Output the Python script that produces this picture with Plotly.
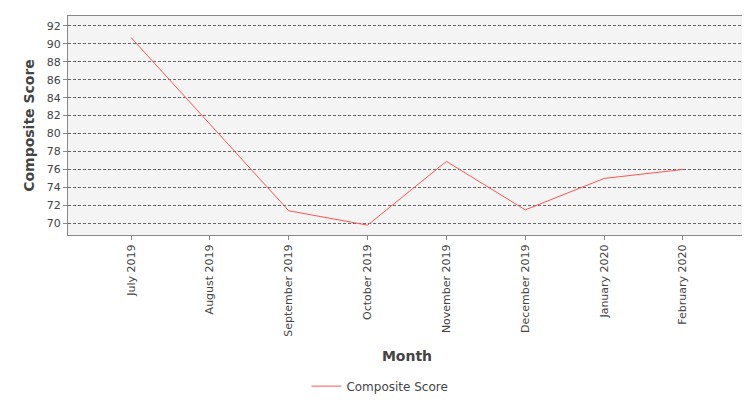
import plotly.graph_objects as go

months = ["July 2019", "August 2019", "September 2019", "October 2019",
          "November 2019", "December 2019", "January 2020", "February 2020"]
scores = [90.7, 81.1, 71.4, 69.8, 76.9, 71.5, 75.0, 76.0]
y_ticks = list(range(70, 93, 2))

fig = go.Figure(go.Scatter(x=months, y=scores, mode="lines", name="Composite Score",
                           line=dict(color="#ff5555", width=1)))
fig.update_layout(
    width=750, height=400, margin=dict(l=60, r=12, t=8, b=167),
    paper_bgcolor="white", plot_bgcolor="#f4f4f4",
    font=dict(family="DejaVu Sans", size=11, color="#444"),
    showlegend=True,
    legend=dict(orientation="h", x=0.46, xanchor="center", y=-0.69, yanchor="middle",
                font=dict(size=12, color="#444")),
)
fig.update_xaxes(range=[-0.8, 7.8], tickangle=-90, showgrid=False, ticks="outside",
                 ticklen=4, tickcolor="#888", showline=True, linecolor="#888", mirror=True,
                 automargin=False,
                 title=dict(text="<b>Month</b>", font=dict(size=14, color="#444")))
fig.update_yaxes(range=[68.7, 93.1], tickvals=y_ticks, showgrid=True, gridcolor="#666",
                 griddash="3px,2px", gridwidth=0.5, ticks="outside", ticklen=4, tickcolor="#888",
                 showline=True, linecolor="#888", mirror=True, zeroline=False, automargin=False,
                 title=dict(text="<b>Composite Score</b>", font=dict(size=14, color="#444"), standoff=8))
fig.write_html("out.html")
